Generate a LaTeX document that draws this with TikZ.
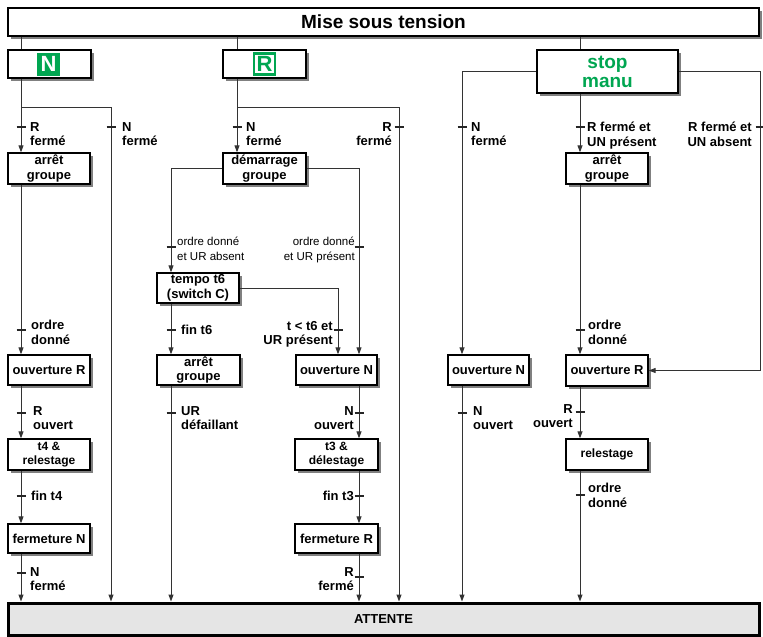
\documentclass[tikz,border=0pt]{standalone}
\usepackage{fontspec}
\setmainfont{Liberation Sans}
\usetikzlibrary{arrows.meta,shadows,calc}
\definecolor{grn}{HTML}{00A651}
\definecolor{ln}{HTML}{333333}
\newcommand\tk[2]{\draw[tickline] ({#1-4.5},#2) -- ({#1+4.5},#2);}
\begin{document}
\begin{tikzpicture}[x=1pt,y=-1pt,
 box/.style={draw=black, line width=1.3pt, fill=white, drop shadow={shadow xshift=3pt,shadow yshift=-3pt,fill=black!50,opacity=1}, align=center, inner sep=0pt, font=\bfseries\fontsize{13}{14.5}\selectfont},
 sbox/.style={box, font=\bfseries\fontsize{12}{13.5}\selectfont},
 conn/.style={draw=ln, line width=1pt},
 arr/.style={conn, -{Triangle[length=7pt,width=5pt]}},
 tickline/.style={draw=black!85, line width=2.3pt},
 lab/.style={font=\bfseries\fontsize{13}{14.5}\selectfont, inner sep=0pt, align=left, anchor=north west},
 labr/.style={lab, align=right, anchor=north east},
 rlab/.style={font=\fontsize{11.5}{15}\selectfont, inner sep=0pt, align=left, anchor=north west},
 rlabr/.style={rlab, align=right, anchor=north east}]
\useasboundingbox (0,0) rectangle (763,637);

% boxes
\node[box, minimum width=751, minimum height=28, font=\bfseries\fontsize{19}{20}\selectfont] (top) at (383.5,22) {Mise sous tension};
\node[box, minimum width=83, minimum height=28] (nbox) at (49.5,64) {};
\node[fill=grn, text=white, minimum size=23, inner sep=0pt, font=\bfseries\fontsize{22}{22}\selectfont] (nsq) at (48.5,64) {N};
\node[box, minimum width=83, minimum height=28] (rbox) at (264.5,64) {};
\node[draw=grn, line width=2.5pt, fill=white, text=grn, minimum size=21, inner sep=0pt, font=\bfseries\fontsize{22}{22}\selectfont] (rsq) at (264.5,64) {R};
\node[box, minimum width=141, minimum height=43, text=grn, font=\bfseries\fontsize{19}{19}\selectfont] (stop) at (607.5,71.5) {stop\\manu};

\node[box, minimum width=82, minimum height=31] (arr1) at (49,168.5) {arrêt\\groupe};
\node[box, minimum width=82, minimum height=30] (ouvR1) at (49,370) {ouverture R};
\node[sbox, minimum width=82, minimum height=31] (t4) at (49,454.5) {t4 \&\\relestage};
\node[box, minimum width=82, minimum height=29] (fermN) at (49,538.5) {fermeture N};

\node[box, minimum width=83, minimum height=31] (dem) at (264.5,168.5) {démarrage\\groupe};
\node[box, minimum width=82, minimum height=30] (tempo) at (198,288) {tempo t6\\(switch C)};
\node[box, minimum width=83, minimum height=30] (arr2) at (198.5,370) {arrêt\\groupe};
\node[box, minimum width=81, minimum height=30] (ouvN1) at (336.5,370) {ouverture N};
\node[sbox, minimum width=83, minimum height=31] (t3) at (336.5,454.5) {t3 \&\\délestage};
\node[box, minimum width=83, minimum height=29] (fermR) at (336.5,538.5) {fermeture R};

\node[box, minimum width=81, minimum height=30] (ouvN2) at (488.5,370) {ouverture N};
\node[box, minimum width=82, minimum height=31] (arr3) at (607,168.5) {arrêt\\groupe};
\node[box, minimum width=82, minimum height=31] (ouvR2) at (607,370.5) {ouverture R};
\node[sbox, minimum width=82, minimum height=31] (relest) at (607,454.5) {relestage};

\node[draw=black, line width=3pt, fill=black!10, minimum width=751, minimum height=32, inner sep=0pt, font=\bfseries\fontsize{13}{13}\selectfont] (att) at (383.5,619) {ATTENTE};

% columns
\coordinate (xa) at (21,0);
\coordinate (xb) at (111,0);
\coordinate (xc) at (237,0);
\coordinate (xd) at (171,0);
\coordinate (xe) at (338,0);
\coordinate (xf) at (359,0);
\coordinate (xg) at (399,0);
\coordinate (xh) at (462,0);
\coordinate (xi) at (580,0);
\coordinate (xj) at (760,0);
\coordinate (ja) at (21,107);
\coordinate (jc) at (237,107);

% connectors
\draw[conn] (top.south -| xa) -- (nbox.north -| xa);
\draw[conn] (top.south -| xc) -- (rbox.north -| xc);
\draw[conn] (top.south -| xi) -- (stop.north -| xi);

\draw[arr] (nbox.south -| xa) -- (arr1.north -| xa);
\draw[arr] (ja) -| (att.north -| xb);
\draw[arr] (arr1.south -| xa) -- (ouvR1.north -| xa);
\draw[arr] (ouvR1.south -| xa) -- (t4.north -| xa);
\draw[arr] (t4.south -| xa) -- (fermN.north -| xa);
\draw[arr] (fermN.south -| xa) -- (att.north -| xa);

\draw[arr] (rbox.south -| xc) -- (dem.north -| xc);
\draw[arr] (jc) -| (att.north -| xg);
\draw[arr] (dem.west) -| (tempo.north -| xd);
\draw[arr] (dem.east) -| (ouvN1.north -| xf);
\draw[arr] (tempo.east) -| (ouvN1.north -| xe);
\draw[arr] (tempo.south -| xd) -- (arr2.north -| xd);
\draw[arr] (arr2.south -| xd) -- (att.north -| xd);
\draw[arr] (ouvN1.south -| xf) -- (t3.north -| xf);
\draw[arr] (t3.south -| xf) -- (fermR.north -| xf);
\draw[arr] (fermR.south -| xf) -- (att.north -| xf);

\draw[arr] (stop.west) -| (ouvN2.north -| xh);
\draw[arr] (ouvN2.south -| xh) -- (att.north -| xh);
\draw[arr] (stop.east) -| (xj |- ouvR2.east) -- (ouvR2.east);
\draw[arr] (stop.south -| xi) -- (arr3.north -| xi);
\draw[arr] (arr3.south -| xi) -- (ouvR2.north -| xi);
\draw[arr] (ouvR2.south -| xi) -- (relest.north -| xi);
\draw[arr] (relest.south -| xi) -- (att.north -| xi);

% ticks
\tk{21}{127} \tk{111}{127} \tk{237}{127} \tk{399}{127} \tk{462}{127} \tk{580}{127} \tk{760}{127}
\tk{171}{247} \tk{359}{247}
\tk{21}{330} \tk{171}{330} \tk{338}{330} \tk{580}{330}
\tk{21}{413} \tk{171}{413} \tk{359}{413} \tk{462}{413} \tk{580}{412}
\tk{21}{496} \tk{359}{496} \tk{580}{495}
\tk{21}{573} \tk{359}{577}

% labels
\node[lab] (l1) at (30,122) {R\\fermé};
\node[lab] (l2) at (122,122) {N\\fermé};
\node[lab] (l3) at (246,122) {N\\fermé};
\node[labr] (l4) at (392,122) {R\\fermé};
\node[lab] (l5) at (471,122) {N\\fermé};
\node[lab] (l6) at (587,122) {R fermé et\\UN présent};
\node[labr] (l7) at (752,122) {R fermé et\\UN absent};
\node[rlab] (l8) at (177,237) {ordre donné\\et UR absent};
\node[rlabr] (l9) at (355,237) {ordre donné\\et UR présent};
\node[lab] (l10) at (31,320) {ordre\\donné};
\node[lab, anchor=west] (l11) at (181,330) {fin t6};
\node[labr] (l12) at (333,321) {t < t6 et\\UR présent};
\node[lab] (l13) at (588,320) {ordre\\donné};
\node[lab] (l14) at (33,406) {R\\ouvert};
\node[lab] (l15) at (181,406) {UR\\défaillant};
\node[labr] (l16) at (354,406) {N\\ouvert};
\node[lab] (l17) at (473,406) {N\\ouvert};
\node[labr] (l18) at (573,404) {R\\ouvert};
\node[lab, anchor=west] (l19) at (31,496) {fin t4};
\node[lab, anchor=east] (l20) at (354,496) {fin t3};
\node[lab] (l21) at (588,483) {ordre\\donné};
\node[lab] (l22) at (30,567) {N\\fermé};
\node[labr] (l23) at (354,567) {R\\fermé};
\end{tikzpicture}
\end{document}
